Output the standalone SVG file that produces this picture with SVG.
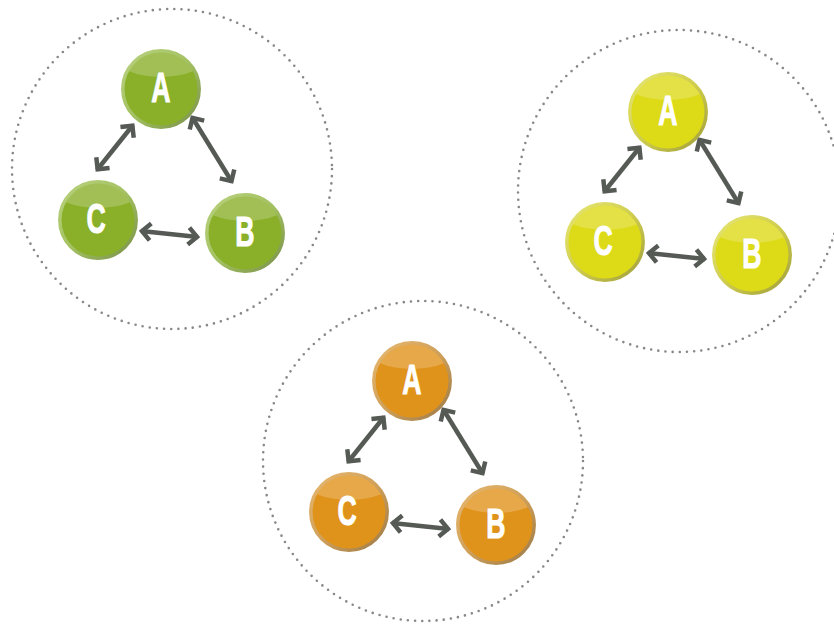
<svg xmlns="http://www.w3.org/2000/svg" width="834" height="625" viewBox="0 0 834 625">
<style>
.ring{fill:none;stroke:#888;stroke-width:2.6;stroke-dasharray:0 7.2;stroke-linecap:round}
.lbl{font-family:"Liberation Sans",Arial,sans-serif;font-weight:bold;font-size:43px;fill:#fff;stroke:#fff;stroke-width:1;text-anchor:middle}
.con{stroke:#555a55;stroke-width:4.5;fill:none;marker-start:url(#ah);marker-end:url(#ah)}
.gloss{fill:#fff;opacity:0.2}
.g{--f:#8AB02A;--e:url(#gg)}
.y{--f:#DDDA17;--e:url(#gy)}
.o{--f:#E0931B;--e:url(#go)}
.body{fill:var(--f)}
.edge{fill:none;stroke-width:3.5;stroke:var(--e)}
</style>
<defs>
<marker id="ah" markerUnits="userSpaceOnUse" markerWidth="30" markerHeight="30" refX="15" refY="15" orient="auto-start-reverse" overflow="visible">
<path d="M5.5 6.5 L14 15 L5.5 23.5" fill="none" stroke="#555a55" stroke-width="4.5" stroke-linejoin="miter"/>
</marker>
<linearGradient id="gg" x1="0" y1="0" x2="1" y2="1">
<stop offset="0" stop-color="#B8D27E"/><stop offset="0.5" stop-color="#A4C162"/><stop offset="1" stop-color="#78904A"/>
</linearGradient>
<linearGradient id="gy" x1="0" y1="0" x2="1" y2="1">
<stop offset="0" stop-color="#E8E774"/><stop offset="0.5" stop-color="#CFCD4E"/><stop offset="1" stop-color="#A09E3A"/>
</linearGradient>
<linearGradient id="go" x1="0" y1="0" x2="1" y2="1">
<stop offset="0" stop-color="#E8B870"/><stop offset="0.5" stop-color="#CFA05A"/><stop offset="1" stop-color="#9C7A48"/>
</linearGradient>
<clipPath id="cc"><circle cx="0" cy="0" r="37"/></clipPath>
<g id="ball">
<circle class="body" r="38.5"/>
<ellipse class="gloss" cx="0" cy="-31" rx="44" ry="19" clip-path="url(#cc)"/>
<circle class="edge" r="38.2"/>
</g>
</defs>

<g id="groups">
<circle class="ring" cx="172" cy="169" r="160"/>
<circle class="ring" cx="679" cy="191" r="161"/>
<circle class="ring" cx="423" cy="461" r="160"/>
</g>

<g id="connectors">
<line class="con" x1="133" y1="125" x2="97" y2="170"/>
<line class="con" x1="192" y1="117" x2="232" y2="182"/>
<line class="con" x1="141" y1="231" x2="198" y2="237"/>
<line class="con" x1="640" y1="147" x2="604" y2="192"/>
<line class="con" x1="699" y1="139" x2="739" y2="204"/>
<line class="con" x1="648" y1="253" x2="705" y2="259"/>
<line class="con" x1="384" y1="417" x2="348" y2="462"/>
<line class="con" x1="443" y1="409" x2="483" y2="474"/>
<line class="con" x1="392" y1="523" x2="449" y2="529"/>
</g>

<g id="green-A" class="g" transform="translate(161,89)"><use href="#ball"/><text class="lbl" transform="scale(0.62,1)" x="0" y="13">A</text></g>
<g id="green-C" class="g" transform="translate(98,220)"><use href="#ball"/><text class="lbl" transform="scale(0.62,1)" x="-3" y="13">C</text></g>
<g id="green-B" class="g" transform="translate(245,233)"><use href="#ball"/><text class="lbl" transform="scale(0.62,1)" x="0" y="13">B</text></g>

<g id="yellow-A" class="y" transform="translate(668,112)"><use href="#ball"/><text class="lbl" transform="scale(0.62,1)" x="0" y="13">A</text></g>
<g id="yellow-C" class="y" transform="translate(605,242)"><use href="#ball"/><text class="lbl" transform="scale(0.62,1)" x="-3" y="13">C</text></g>
<g id="yellow-B" class="y" transform="translate(752,255)"><use href="#ball"/><text class="lbl" transform="scale(0.62,1)" x="0" y="13">B</text></g>

<g id="orange-A" class="o" transform="translate(412,381)"><use href="#ball"/><text class="lbl" transform="scale(0.62,1)" x="0" y="13">A</text></g>
<g id="orange-C" class="o" transform="translate(349,512)"><use href="#ball"/><text class="lbl" transform="scale(0.62,1)" x="-3" y="13">C</text></g>
<g id="orange-B" class="o" transform="translate(496,525)"><use href="#ball"/><text class="lbl" transform="scale(0.62,1)" x="0" y="13">B</text></g>
</svg>
